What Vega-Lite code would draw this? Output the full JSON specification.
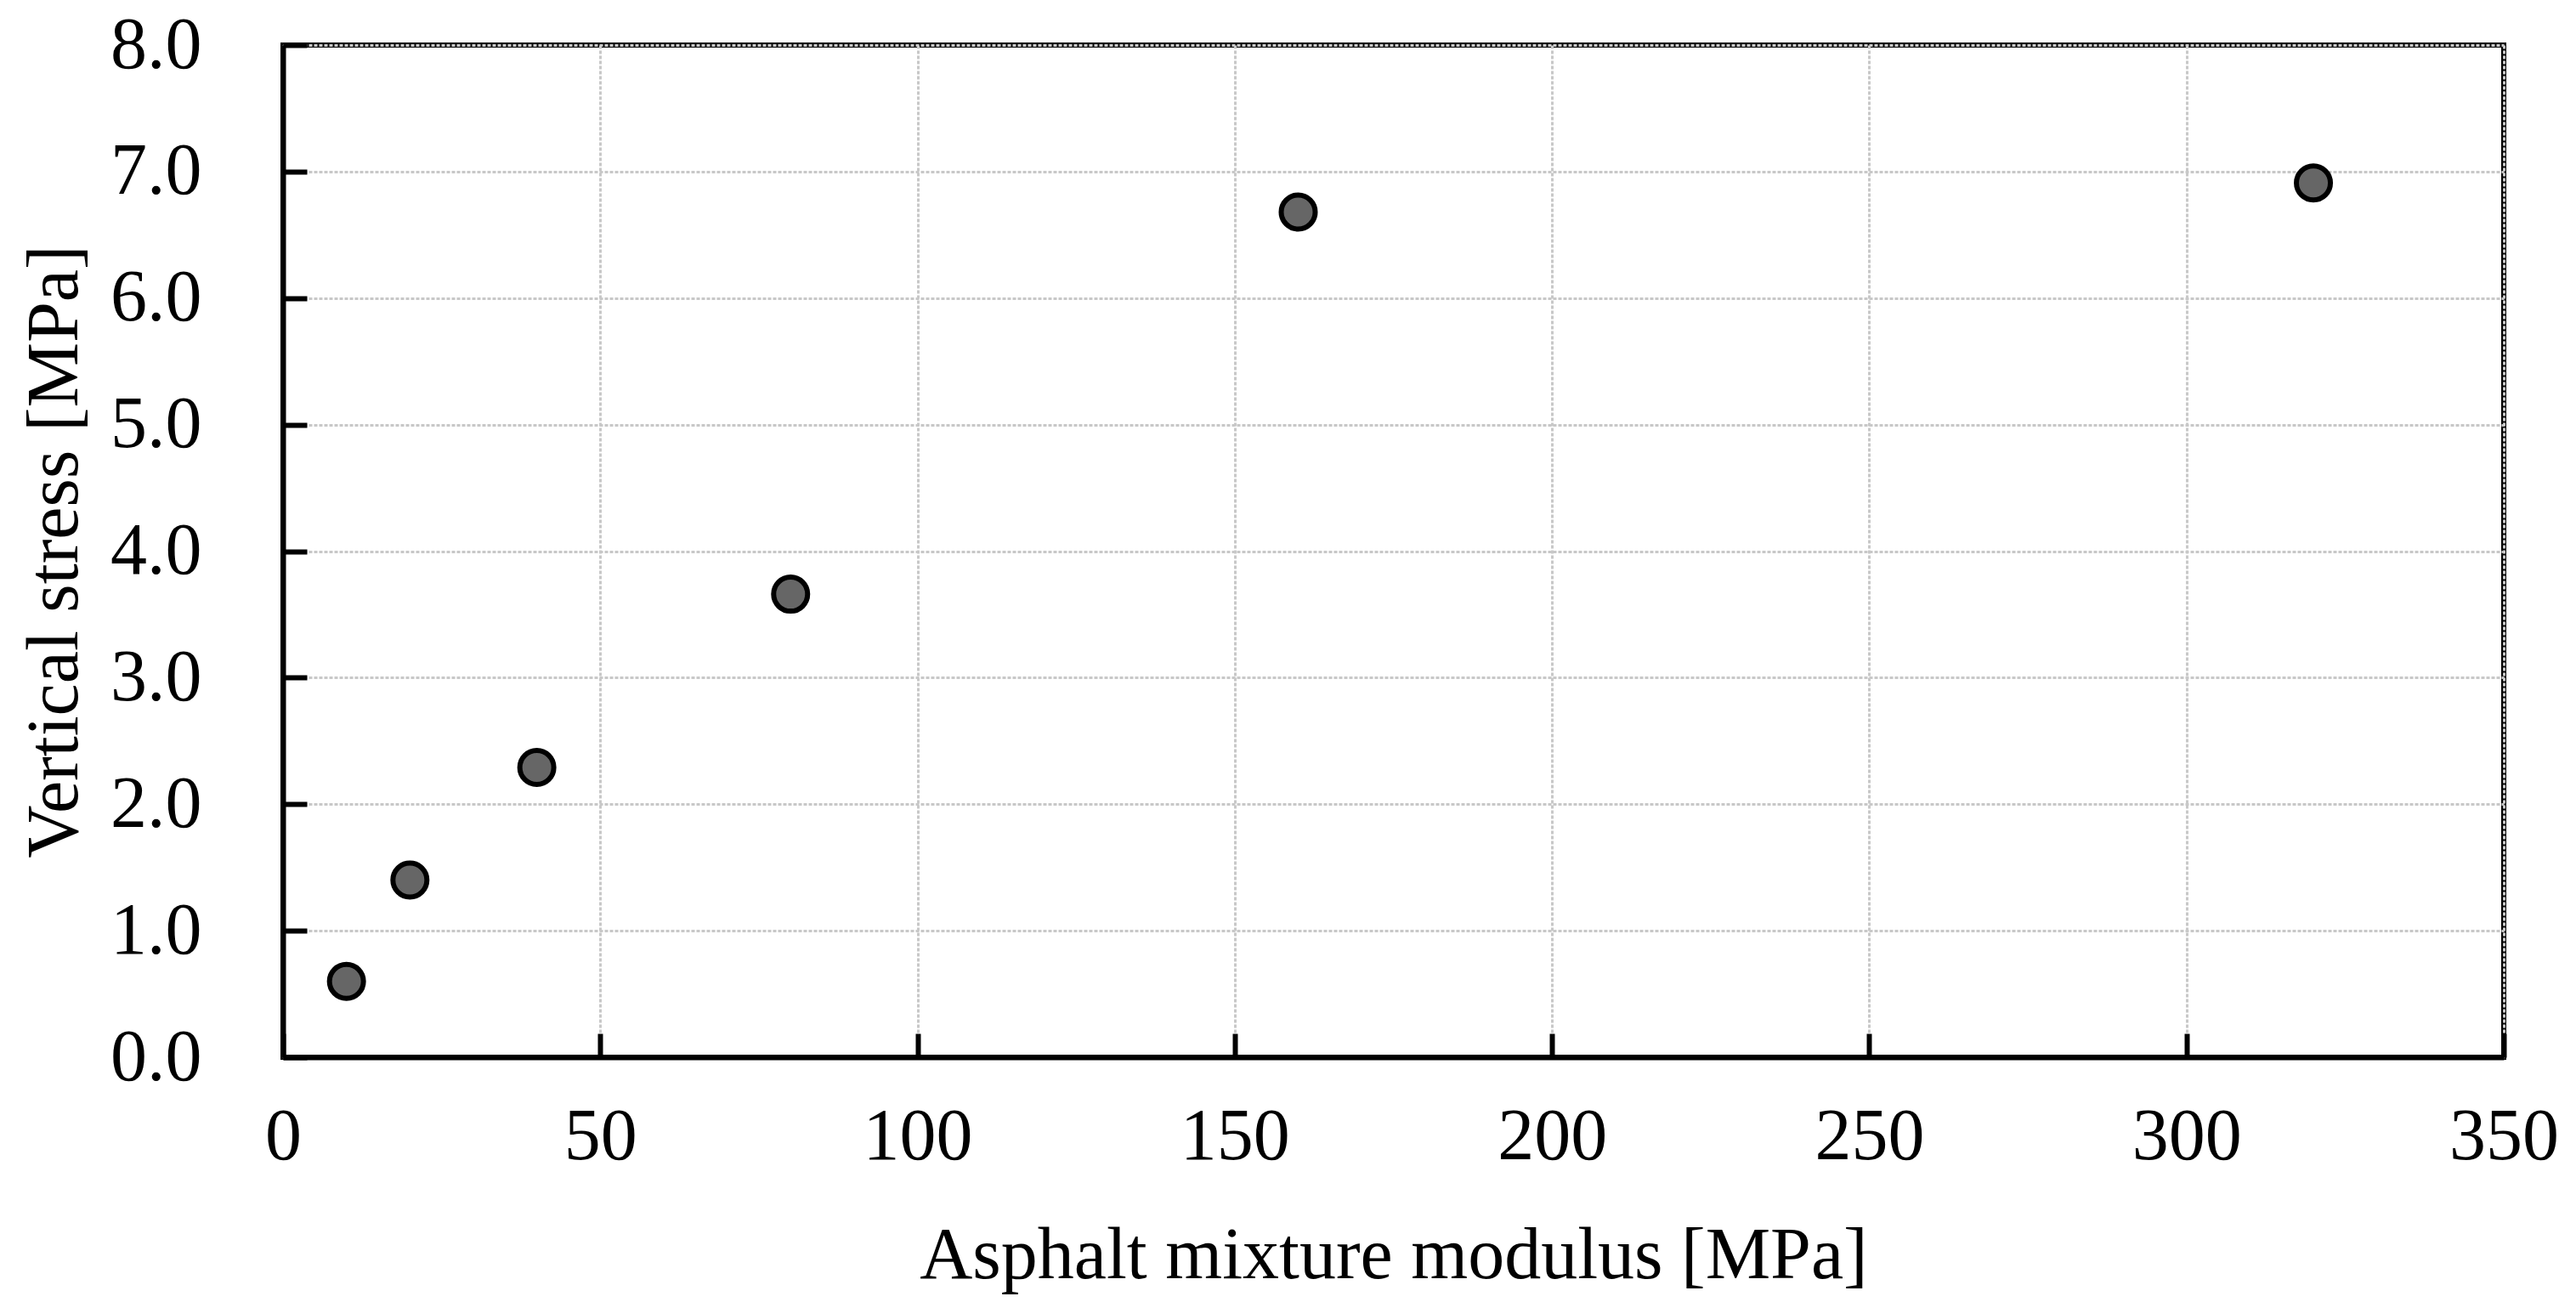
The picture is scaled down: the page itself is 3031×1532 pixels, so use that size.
{
  "$schema": "https://vega.github.io/schema/vega-lite/v6.json",
  "width": 2613,
  "height": 1191,
  "autosize": {"type": "none"},
  "padding": {"left": 333, "top": 53, "right": 85, "bottom": 288},
  "background": "white",
  "config": {
    "view": {"stroke": "black", "strokeWidth": 6},
    "axis": {
      "labelFont": "Liberation Serif",
      "titleFont": "Liberation Serif",
      "labelFontSize": 86,
      "titleFontSize": 86,
      "titleFontWeight": "normal",
      "labelColor": "black",
      "titleColor": "black",
      "domainColor": "black",
      "domainWidth": 6,
      "tickColor": "black",
      "tickWidth": 6,
      "tickSize": -28,
      "gridColor": "#c8c8c8",
      "gridWidth": 3,
      "gridDash": [4, 2]
    }
  },
  "data": {
    "values": [
      {"modulus": 10, "stress": 0.6},
      {"modulus": 20, "stress": 1.4},
      {"modulus": 40, "stress": 2.29},
      {"modulus": 80, "stress": 3.66},
      {"modulus": 160, "stress": 6.68},
      {"modulus": 320, "stress": 6.91}
    ]
  },
  "mark": {"type": "point", "shape": "circle", "filled": true, "fill": "#666666", "stroke": "black", "strokeWidth": 6, "size": 1600, "opacity": 1},
  "encoding": {
    "x": {
      "field": "modulus",
      "type": "quantitative",
      "scale": {"domain": [0, 350], "nice": false, "zero": false},
      "axis": {"title": "Asphalt mixture modulus [MPa]", "values": [0, 50, 100, 150, 200, 250, 300, 350], "labelPadding": 79, "titlePadding": 55, "labelFlush": false}
    },
    "y": {
      "field": "stress",
      "type": "quantitative",
      "scale": {"domain": [0, 8], "nice": false, "zero": false},
      "axis": {"title": "Vertical stress [MPa]", "values": [0, 1, 2, 3, 4, 5, 6, 7, 8], "format": ".1f", "labelPadding": 124, "titlePadding": 25, "labelFlush": false}
    }
  }
}
